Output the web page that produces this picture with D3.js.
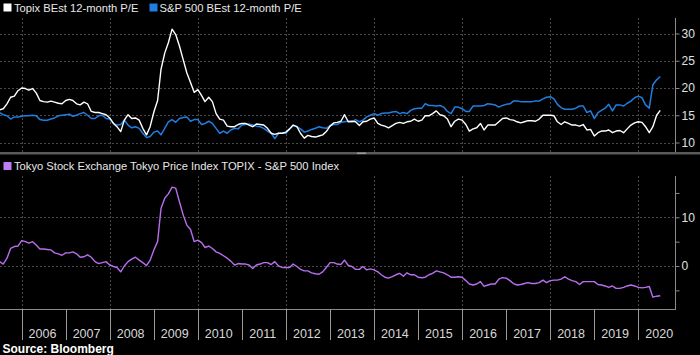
<!DOCTYPE html>
<html>
<head>
<meta charset="utf-8">
<script src="https://cdn.jsdelivr.net/npm/d3@7"></script>
<style>
  html, body { margin: 0; padding: 0; background: #000; }
  svg { display: block; font-family: "Liberation Sans", Arial, sans-serif; }
</style>
</head>
<body>
<svg id="chart" width="700" height="355"></svg>
<script>
// ---- Data (monthly, Jul 2005 .. Jul 2020) ----
const startMonth = new Date(2005, 6, 1);
const endMonth = new Date(2020, 7, 1);
const months = d3.timeMonth.range(startMonth, endMonth);

const topixPE = [
  16.0,16.2,17.1,18.3,18.5,19.5,
  20.0,19.9,19.6,19.9,19.1,17.7,17.5,17.4,17.6,17.4,17.2,17.1,
  17.7,17.9,17.7,17.1,16.9,17.4,17.1,15.7,15.5,15.5,15.3,15.1,
  14.5,13.5,12.9,12.0,14.1,15.1,14.4,14.5,14.1,12.6,11.4,12.9,
  15.6,17.7,23.4,26.4,28.3,30.8,29.8,27.7,25.2,22.8,21.0,19.2,
  19.7,18.6,17.5,18.3,17.5,15.3,14.3,14.1,13.0,12.9,12.9,13.3,
  13.5,13.5,13.2,12.9,13.4,13.3,13.2,12.6,11.7,11.5,11.7,11.7,
  11.9,12.5,13.2,12.9,11.7,10.8,11.3,11.1,11.0,11.2,11.4,12.0,
  13.0,13.6,13.7,13.9,15.1,13.8,13.9,13.8,13.1,13.8,13.9,14.3,
  14.5,13.5,13.2,13.0,12.7,13.1,13.5,13.7,13.5,13.8,13.9,14.3,
  13.9,14.1,14.9,14.9,15.3,15.8,15.1,14.9,14.3,12.9,13.9,14.3,
  14.1,13.3,12.1,12.5,12.7,13.5,12.3,13.2,13.2,13.2,13.8,14.4,
  14.5,14.2,14.1,13.8,13.6,13.8,14.0,14.0,13.9,14.3,15.0,15.0,
  15.0,14.9,13.8,13.3,13.8,13.5,13.2,13.2,13.0,13.3,12.3,12.4,
  11.2,11.8,12.1,12.1,12.3,11.8,12.1,12.2,11.8,12.5,13.2,13.6,
  13.8,13.7,12.9,11.8,12.9,15.0,15.9
];

const spxPE = [
  15.5,15.1,14.9,14.3,14.7,14.7,
  14.8,14.9,14.9,15.0,14.9,14.2,14.1,14.1,14.3,14.5,14.9,15.0,
  15.1,15.2,14.8,15.0,15.3,15.5,15.0,14.4,14.4,14.9,15.0,14.4,
  14.3,13.5,13.2,13.3,14.1,13.2,12.7,12.9,12.6,11.7,10.9,11.1,
  11.9,12.1,11.4,12.6,13.8,14.2,13.7,14.4,14.6,14.7,13.9,14.2,
  14.2,13.3,13.5,13.9,13.5,12.6,11.7,12.1,11.7,12.3,12.6,12.5,
  13.2,13.3,13.4,13.2,13.0,12.9,12.6,12.1,11.7,10.7,11.7,11.7,
  11.7,12.5,13.1,12.9,12.5,11.9,12.1,12.4,12.6,12.9,12.7,12.6,
  13.1,13.3,13.3,13.7,13.8,13.9,13.8,14.2,13.8,14.1,14.7,15.0,
  15.3,15.0,15.3,15.4,15.4,15.6,15.7,15.3,15.5,15.3,15.9,16.2,
  16.3,16.3,17.1,16.8,16.8,16.7,16.8,16.5,15.7,15.3,16.5,16.5,
  16.2,15.7,15.7,16.7,16.7,16.7,16.8,17.1,17.0,16.9,16.5,16.8,
  17.0,17.1,17.6,17.6,17.5,17.5,17.5,17.5,17.6,17.6,18.0,18.3,
  18.4,18.0,17.0,16.4,16.1,16.1,16.1,16.3,16.7,16.7,15.5,15.8,
  14.4,15.5,15.9,16.3,17.0,15.8,16.9,16.9,16.7,17.2,17.6,18.2,
  18.5,18.2,16.9,16.3,20.6,21.5,22.1
];

const spreadPE = [
  0.9,0.4,1.6,3.6,4.0,4.1,
  5.2,5.0,4.7,5.0,4.3,3.5,3.5,3.4,3.3,2.7,2.5,2.2,
  2.7,2.7,2.9,2.5,1.8,1.9,2.3,1.8,0.9,0.5,0.7,0.9,
  0.2,-0.1,-0.3,-1.2,0.0,0.9,1.4,1.8,1.2,0.7,0.1,1.2,
  3.3,5.0,11.8,13.9,14.8,16.2,16.0,13.2,10.5,8.4,7.5,5.0,
  5.3,4.8,3.8,4.1,3.6,2.9,2.6,2.1,1.6,1.0,0.2,0.5,
  0.4,0.4,0.2,-0.5,0.2,0.4,0.7,0.7,0.3,0.9,0.0,-0.3,
  -0.3,-0.3,0.4,-0.1,-0.7,-1.0,-1.0,-1.4,-1.6,-1.7,-1.2,-0.3,
  0.7,0.7,0.4,0.3,1.2,0.1,-0.1,-0.7,-0.7,-0.1,-0.8,-0.6,
  -0.8,-1.2,-1.8,-2.3,-2.5,-2.2,-1.8,-1.5,-2.1,-1.4,-1.8,-1.8,
  -2.3,-2.4,-2.3,-1.8,-1.5,-1.0,-1.2,-1.4,-1.8,-2.3,-2.3,-2.2,
  -2.3,-3.0,-3.7,-3.9,-3.7,-3.2,-4.2,-3.9,-3.7,-3.7,-2.7,-2.4,
  -2.5,-3.0,-3.6,-3.9,-3.8,-3.6,-3.4,-3.6,-3.6,-3.4,-2.9,-3.4,
  -3.0,-2.9,-2.9,-2.7,-2.2,-2.7,-3.0,-3.2,-3.8,-3.2,-3.2,-3.2,
  -3.2,-3.8,-3.9,-4.1,-4.4,-4.1,-4.6,-4.6,-4.4,-4.1,-3.9,-4.1,
  -4.4,-4.5,-4.4,-4.2,-6.4,-6.2,-6.1
];

const years = [2006,2007,2008,2009,2010,2011,2012,2013,2014,2015,2016,2017,2018,2019,2020];
const topTicks = [10, 15, 20, 25, 30];
const bottomTicks = [-5, 0, 5, 10, 15];
const bottomLabeled = [0, 10];

const legendTop = [
  {label: "Topix BEst 12-month P/E", color: "#ffffff"},
  {label: "S&P 500 BEst 12-month P/E", color: "#1f7ee0"}
];
const legendBottom = "Tokyo Stock Exchange Tokyo Price Index TOPIX - S&P 500 Index";
const sourceText = "Source: Bloomberg";

// ---- Layout ----
const svg = d3.select("#chart");
const W = 700, H = 355;
const axisX = 675;
const pTop = {y0: 18, y1: 152};
const pBot = {y0: 176, y1: 309};

const x = d3.scaleTime()
  .domain([new Date(2006, 0, 1), new Date(2020, 0, 1)])
  .range([21.7, 638.3]);

const yTop = d3.scaleLinear().domain([10, 30]).range([142.5, 33.5]);
const yBot = d3.scaleLinear().domain([0, 10]).range([266, 217.3]);

svg.append("rect").attr("width", W).attr("height", H).attr("fill", "#000");

const gridColor = "#4a4a4a";
const gridDash = "2,2";

const defs = svg.append("defs");
defs.append("clipPath").attr("id", "clipTop").append("rect")
  .attr("x", 0).attr("y", pTop.y0).attr("width", axisX).attr("height", pTop.y1 - pTop.y0);
defs.append("clipPath").attr("id", "clipBot").append("rect")
  .attr("x", 0).attr("y", pBot.y0).attr("width", axisX).attr("height", pBot.y1 - pBot.y0);

// ---- Gridlines ----
const evenYears = years.filter(y => y % 2 === 0);
function vGrid(panel) {
  svg.append("g").selectAll("line").data(evenYears).join("line")
    .attr("x1", d => Math.round(x(new Date(d, 0, 1))) + 0.5)
    .attr("x2", d => Math.round(x(new Date(d, 0, 1))) + 0.5)
    .attr("y1", panel.y0).attr("y2", panel.y1)
    .attr("stroke", gridColor).attr("stroke-dasharray", gridDash);
}
vGrid(pTop); vGrid(pBot);

svg.append("g").selectAll("line").data(topTicks).join("line")
  .attr("x1", 0).attr("x2", axisX)
  .attr("y1", d => Math.round(yTop(d)) + 0.5).attr("y2", d => Math.round(yTop(d)) + 0.5)
  .attr("stroke", gridColor).attr("stroke-dasharray", gridDash);

svg.append("g").selectAll("line").data(bottomLabeled).join("line")
  .attr("x1", 0).attr("x2", axisX)
  .attr("y1", d => Math.round(yBot(d)) + 0.5).attr("y2", d => Math.round(yBot(d)) + 0.5)
  .attr("stroke", gridColor).attr("stroke-dasharray", gridDash);

// ---- Right axes ----
const axisColor = "#8a8a8a";
const labelColor = "#e0e0e0";

const axTop = svg.append("g").attr("transform", `translate(${axisX + 0.5},0)`)
  .call(d3.axisRight(yTop).tickValues(topTicks).tickSize(4).tickPadding(2).tickSizeOuter(0));
axTop.select(".domain").attr("d", `M0,${pTop.y0}V${pTop.y1}`);

const axBot = svg.append("g").attr("transform", `translate(${axisX + 0.5},0)`)
  .call(d3.axisRight(yBot).tickValues(bottomTicks).tickSize(4).tickPadding(2).tickSizeOuter(0)
    .tickFormat(d => bottomLabeled.includes(d) ? d : ""));
axBot.select(".domain").attr("d", `M0,${pBot.y0}V${pBot.y1}`);

[axTop, axBot].forEach(g => {
  g.select(".domain").attr("stroke", axisColor);
  g.selectAll(".tick line").attr("stroke", axisColor);
  g.selectAll(".tick text").attr("fill", labelColor)
    .attr("font-size", 12).attr("font-family", "Liberation Sans, Arial, sans-serif");
});

// ---- Bottom time axis ----
svg.append("line").attr("x1", 0).attr("x2", axisX + 1)
  .attr("y1", pBot.y1 + 0.5).attr("y2", pBot.y1 + 0.5).attr("stroke", axisColor);

svg.append("g").selectAll("line").data(years).join("line")
  .attr("x1", d => Math.round(x(new Date(d, 0, 1))) + 0.5)
  .attr("x2", d => Math.round(x(new Date(d, 0, 1))) + 0.5)
  .attr("y1", pBot.y1).attr("y2", 340)
  .attr("stroke", "#9a9a9a");

svg.append("g").selectAll("text").data(years).join("text")
  .attr("x", d => x(new Date(d, 6, 1)) - 1)
  .attr("y", 338)
  .attr("text-anchor", "middle")
  .attr("fill", "#d8d8d8")
  .attr("font-size", 12.5)
  .text(d => d);

// ---- Panel separator ----
svg.append("rect").attr("x", 0).attr("y", 152).attr("width", W).attr("height", 2.5).attr("fill", "#5a5a5a");
svg.append("rect").attr("x", 357).attr("y", 152.5).attr("width", 9).attr("height", 1.5).attr("fill", "#9a9a9a");

// ---- Lines ----
const lineTop = (arr) => d3.line().x((d, i) => x(months[i])).y(d => yTop(d))(arr);
const lineBot = (arr) => d3.line().x((d, i) => x(months[i])).y(d => yBot(d))(arr);

const gTop = svg.append("g").attr("clip-path", "url(#clipTop)");
gTop.append("path").attr("d", lineTop(spxPE))
  .attr("fill", "none").attr("stroke", legendTop[1].color).attr("stroke-width", 1.5)
  .attr("stroke-linejoin", "round");
gTop.append("path").attr("d", lineTop(topixPE))
  .attr("fill", "none").attr("stroke", legendTop[0].color).attr("stroke-width", 1.4)
  .attr("stroke-linejoin", "round");

const gBot = svg.append("g").attr("clip-path", "url(#clipBot)");
gBot.append("path").attr("d", lineBot(spreadPE))
  .attr("fill", "none").attr("stroke", "#b96ef0").attr("stroke-width", 1.4)
  .attr("stroke-linejoin", "round");

// ---- Legends ----
const legTop = svg.append("g");
const legPos = [{sx: 3.5, tx: 14}, {sx: 149.5, tx: 159.5}];
legendTop.forEach((d, i) => {
  legTop.append("rect").attr("x", legPos[i].sx).attr("y", 3.5).attr("width", 8).attr("height", 8).attr("fill", d.color);
  legTop.append("text").attr("x", legPos[i].tx).attr("y", 11.5)
    .attr("fill", "#e8e8e8").attr("font-size", 11.2).text(d.label);
});

svg.append("rect").attr("x", 3.5).attr("y", 162).attr("width", 8).attr("height", 8).attr("fill", "#c07cf5");
svg.append("text").attr("x", 14).attr("y", 170).attr("fill", "#e8e8e8").attr("font-size", 11.2).text(legendBottom);

svg.append("text").attr("x", 2.5).attr("y", 353).attr("fill", "#ffffff")
  .attr("font-size", 12).attr("font-weight", "bold").text(sourceText);
</script>
</body>
</html>
